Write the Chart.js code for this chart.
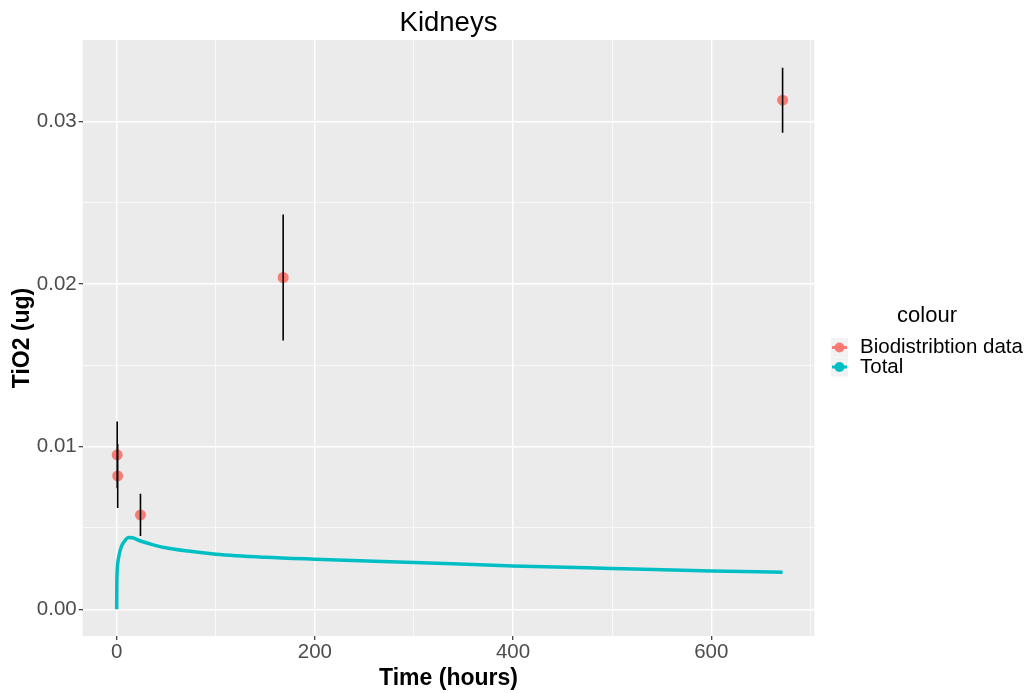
<!DOCTYPE html>
<html>
<head>
<meta charset="utf-8">
<script src="https://cdn.jsdelivr.net/npm/chart.js@4/dist/chart.umd.min.js"></script>
<style>
  body { margin: 0; background: #fff; }
  #wrap { width: 1030px; height: 693px; }
</style>
</head>
<body>
<div id="wrap"><canvas id="kidneyChart"></canvas></div>
<script>
// measured biodistribution data (hours, ug, +/- error)
const sampleTime = [0.5, 1, 24, 168, 672];
const sampleValue = [0.0095, 0.0082, 0.0058, 0.0204, 0.0313];
const sampleError = [0.00205, 0.00197, 0.0013, 0.00388, 0.002];

// model curve "Total"
const curveTime = [0, 0.1, 0.3, 0.6, 1, 2, 3, 5, 8, 12, 16, 24, 36, 48, 72, 100, 150, 200, 300, 400, 500, 600, 672];
const curveValue = [0, 0.0014, 0.0021, 0.0025, 0.0028, 0.0032, 0.0035, 0.0039, 0.0042, 0.00442, 0.0044, 0.0042, 0.00398, 0.0038, 0.00358, 0.00339, 0.0032, 0.00308, 0.00288, 0.00267, 0.00251, 0.00236, 0.00228];

const xTickValues = [0, 100, 200, 300, 400, 500, 600, 700];
const xTickLabels = ['0', '', '200', '', '400', '', '600', ''];
const yTickValues = [0, 0.005, 0.01, 0.015, 0.02, 0.025, 0.03];
const yTickLabels = ['0.00', '', '0.01', '', '0.02', '', '0.03'];

const pointColor = 'rgba(248, 118, 109, 0.95)';
const lineColor = '#00BFC4';

const errorBars = [];
sampleTime.forEach((t, i) => {
    errorBars.push({ x: t, y: sampleValue[i] - sampleError[i] });
    errorBars.push({ x: t, y: sampleValue[i] + sampleError[i] });
    errorBars.push({ x: t, y: null });
});

const panelBg = {
    id: 'panelBg',
    beforeDraw(chart) {
        const { ctx, chartArea: a } = chart;
        ctx.save();
        ctx.fillStyle = '#EBEBEB';
        ctx.fillRect(a.left, a.top, a.right - a.left, a.bottom - a.top);
        ctx.restore();
    }
};

const ggExtras = {
    id: 'ggExtras',
    afterDraw(chart) {
        const { ctx, chartArea: a } = chart;
        ctx.save();
        // title
        ctx.fillStyle = '#000';
        ctx.font = '27.5px "Liberation Sans", Arial, sans-serif';
        ctx.textAlign = 'center';
        ctx.textBaseline = 'middle';
        ctx.fillText('Kidneys', (a.left + a.right) / 2, 23);

        // legend
        ctx.font = '22px "Liberation Sans", Arial, sans-serif';
        ctx.fillText('colour', 927, 316);
        const keys = [
            { label: 'Biodistribtion data', color: pointColor },
            { label: 'Total', color: lineColor }
        ];
        keys.forEach((k, i) => {
            const top = 338 + i * 19.5;
            ctx.fillStyle = '#F2F2F2';
            ctx.fillRect(831, top, 17, 19);
            const cy = top + 9.5;
            ctx.strokeStyle = k.color;
            ctx.lineWidth = 3;
            ctx.beginPath();
            ctx.moveTo(832, cy);
            ctx.lineTo(847, cy);
            ctx.stroke();
            ctx.fillStyle = k.color;
            ctx.beginPath();
            ctx.arc(839.5, cy, 5, 0, Math.PI * 2);
            ctx.fill();
            ctx.fillStyle = '#000';
            ctx.font = '20.5px "Liberation Sans", Arial, sans-serif';
            ctx.textAlign = 'left';
            ctx.fillText(k.label, 860, cy);
        });
        ctx.restore();
    }
};

new Chart(document.getElementById('kidneyChart'), {
    type: 'line',
    data: {
        datasets: [
            {
                label: 'error',
                data: errorBars,
                borderColor: '#000',
                borderWidth: 1.6,
                pointRadius: 0,
                spanGaps: false,
                order: 0
            },
            {
                label: 'Biodistribtion data',
                data: sampleTime.map((t, i) => ({ x: t, y: sampleValue[i] })),
                showLine: false,
                pointRadius: 5.5,
                pointBackgroundColor: pointColor,
                pointBorderWidth: 0,
                order: 1
            },
            {
                label: 'Total',
                data: curveTime.map((t, i) => ({ x: t, y: curveValue[i] })),
                borderColor: lineColor,
                borderWidth: 3.5,
                pointRadius: 0,
                cubicInterpolationMode: 'monotone',
                order: 2
            }
        ]
    },
    options: {
        responsive: true,
        maintainAspectRatio: false,
        animation: false,
        layout: { padding: { top: 40, right: 215.7, left: 0, bottom: 0 } },
        plugins: {
            legend: { display: false },
            tooltip: { enabled: false }
        },
        scales: {
            x: {
                type: 'linear',
                min: -34.3,
                max: 704,
                afterBuildTicks: (s) => { s.ticks = xTickValues.map(v => ({ value: v })); },
                afterFit: (s) => { s.height = 57; },
                border: { display: false },
                grid: {
                    color: '#FFFFFF',
                    lineWidth: (c) => (c.index !== undefined && xTickLabels[c.index] !== '') ? 1.4 : 0.7,
                    tickColor: (c) => xTickLabels[c.index] !== '' ? '#333333' : 'rgba(0,0,0,0)',
                    tickLength: 4,
                    tickWidth: 1.2
                },
                ticks: {
                    autoSkip: false,
                    maxRotation: 0,
                    padding: 0,
                    color: '#4D4D4D',
                    font: { family: '"Liberation Sans", Arial, sans-serif', size: 20.5 },
                    callback: (v, i) => xTickLabels[i]
                },
                title: {
                    display: true,
                    text: 'Time (hours)',
                    color: '#000',
                    padding: { top: 0, bottom: 1 },
                    font: { family: '"Liberation Sans", Arial, sans-serif', size: 23, weight: 'bold' }
                }
            },
            y: {
                type: 'linear',
                min: -0.00164,
                max: 0.035,
                afterBuildTicks: (s) => { s.ticks = yTickValues.map(v => ({ value: v })); },
                afterFit: (s) => { s.width = 82.7; },
                border: { display: false },
                grid: {
                    color: '#FFFFFF',
                    lineWidth: (c) => (c.index !== undefined && yTickLabels[c.index] !== '') ? 1.4 : 0.7,
                    tickColor: (c) => yTickLabels[c.index] !== '' ? '#333333' : 'rgba(0,0,0,0)',
                    tickLength: 4,
                    tickWidth: 1.2
                },
                ticks: {
                    autoSkip: false,
                    padding: 2,
                    color: '#4D4D4D',
                    font: { family: '"Liberation Sans", Arial, sans-serif', size: 20.5 },
                    callback: (v, i) => yTickLabels[i]
                },
                title: {
                    display: true,
                    text: 'TiO2 (ug)',
                    color: '#000',
                    padding: { top: 9, bottom: 0 },
                    font: { family: '"Liberation Sans", Arial, sans-serif', size: 23, weight: 'bold' }
                }
            }
        }
    },
    plugins: [panelBg, ggExtras]
});
</script>
</body>
</html>
